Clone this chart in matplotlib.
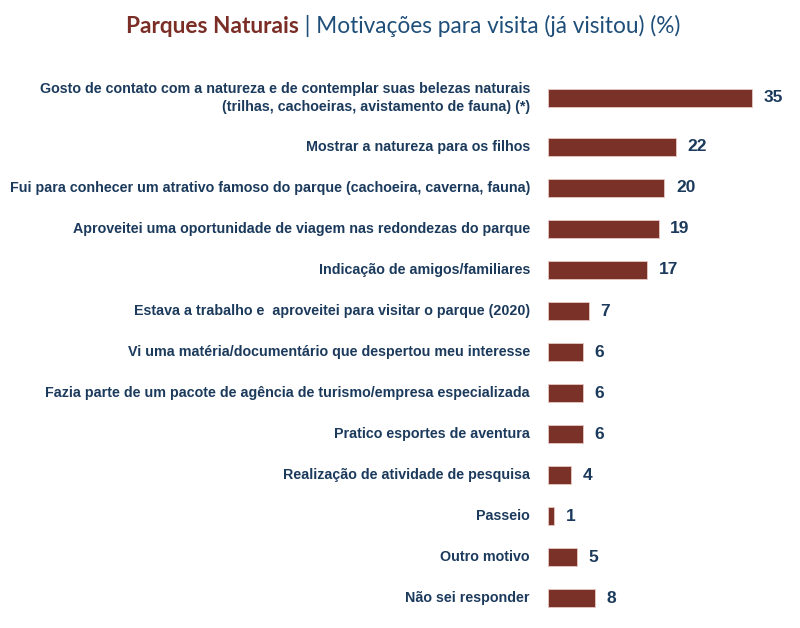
import matplotlib.pyplot as plt
import numpy as np

# ==========================
# Data
# ==========================
categories = [
    "Gosto de contato com a natureza e de contemplar suas belezas naturais\n(trilhas, cachoeiras, avistamento de fauna) (*)",
    "Mostrar a natureza para os filhos",
    "Fui para conhecer um atrativo famoso do parque (cachoeira, caverna, fauna)",
    "Aproveitei uma oportunidade de viagem nas redondezas do parque",
    "Indicação de amigos/familiares",
    "Estava a trabalho e  aproveitei para visitar o parque (2020)",
    "Vi uma matéria/documentário que despertou meu interesse",
    "Fazia parte de um pacote de agência de turismo/empresa especializada",
    "Pratico esportes de aventura",
    "Realização de atividade de pesquisa",
    "Passeio",
    "Outro motivo",
    "Não sei responder",
]
values = [35, 22, 20, 19, 17, 7, 6, 6, 6, 4, 1, 5, 8]

BAR_COLOR = "#7a3128"
TEXT_COLOR = "#1b3a5c"
TITLE_BROWN = "#7a2e26"
TITLE_BLUE = "#1f4e79"

# first row has a two-line label, so give it a bit more room
ypos = np.arange(len(values)) + 0.2
ypos[0] = 0

fig = plt.figure(figsize=(8, 6.28), dpi=100)
ax = fig.add_axes([0.685, 0.015, 0.291, 0.862])

ax.barh(ypos, values, height=0.43, color=BAR_COLOR, edgecolor="#e9c9c4", linewidth=0.6)
ax.set_xlim(0, 40)
ax.set_ylim(ypos[-1] + 0.5, -0.5)

for y, v in zip(ypos, values):
    ax.text(v + 2.0, y, str(v), va="center", ha="left", fontsize=12.5,
            fontweight="bold", color=TEXT_COLOR, family="Liberation Sans")

for y, lab in zip(ypos, categories):
    ax.text(-3.1, y, lab, va="center", ha="right", fontsize=10.3,
            fontweight="bold", color=TEXT_COLOR, family="Liberation Sans",
            linespacing=1.35, multialignment="right")

ax.axis("off")

# title in two colours
t1 = fig.text(0.158, 0.958, "Parques Naturais", fontsize=16.3, fontweight="bold",
              color=TITLE_BROWN, family="Lato", va="center", ha="left")
fig.canvas.draw()
bb = t1.get_window_extent()
x2 = bb.x1 / fig.bbox.width
fig.text(x2, 0.958, " | Motivações para visita (já visitou) (%)", fontsize=16.3,
         color=TITLE_BLUE, family="Lato", va="center", ha="left")

fig.savefig("out.png", dpi=100)
